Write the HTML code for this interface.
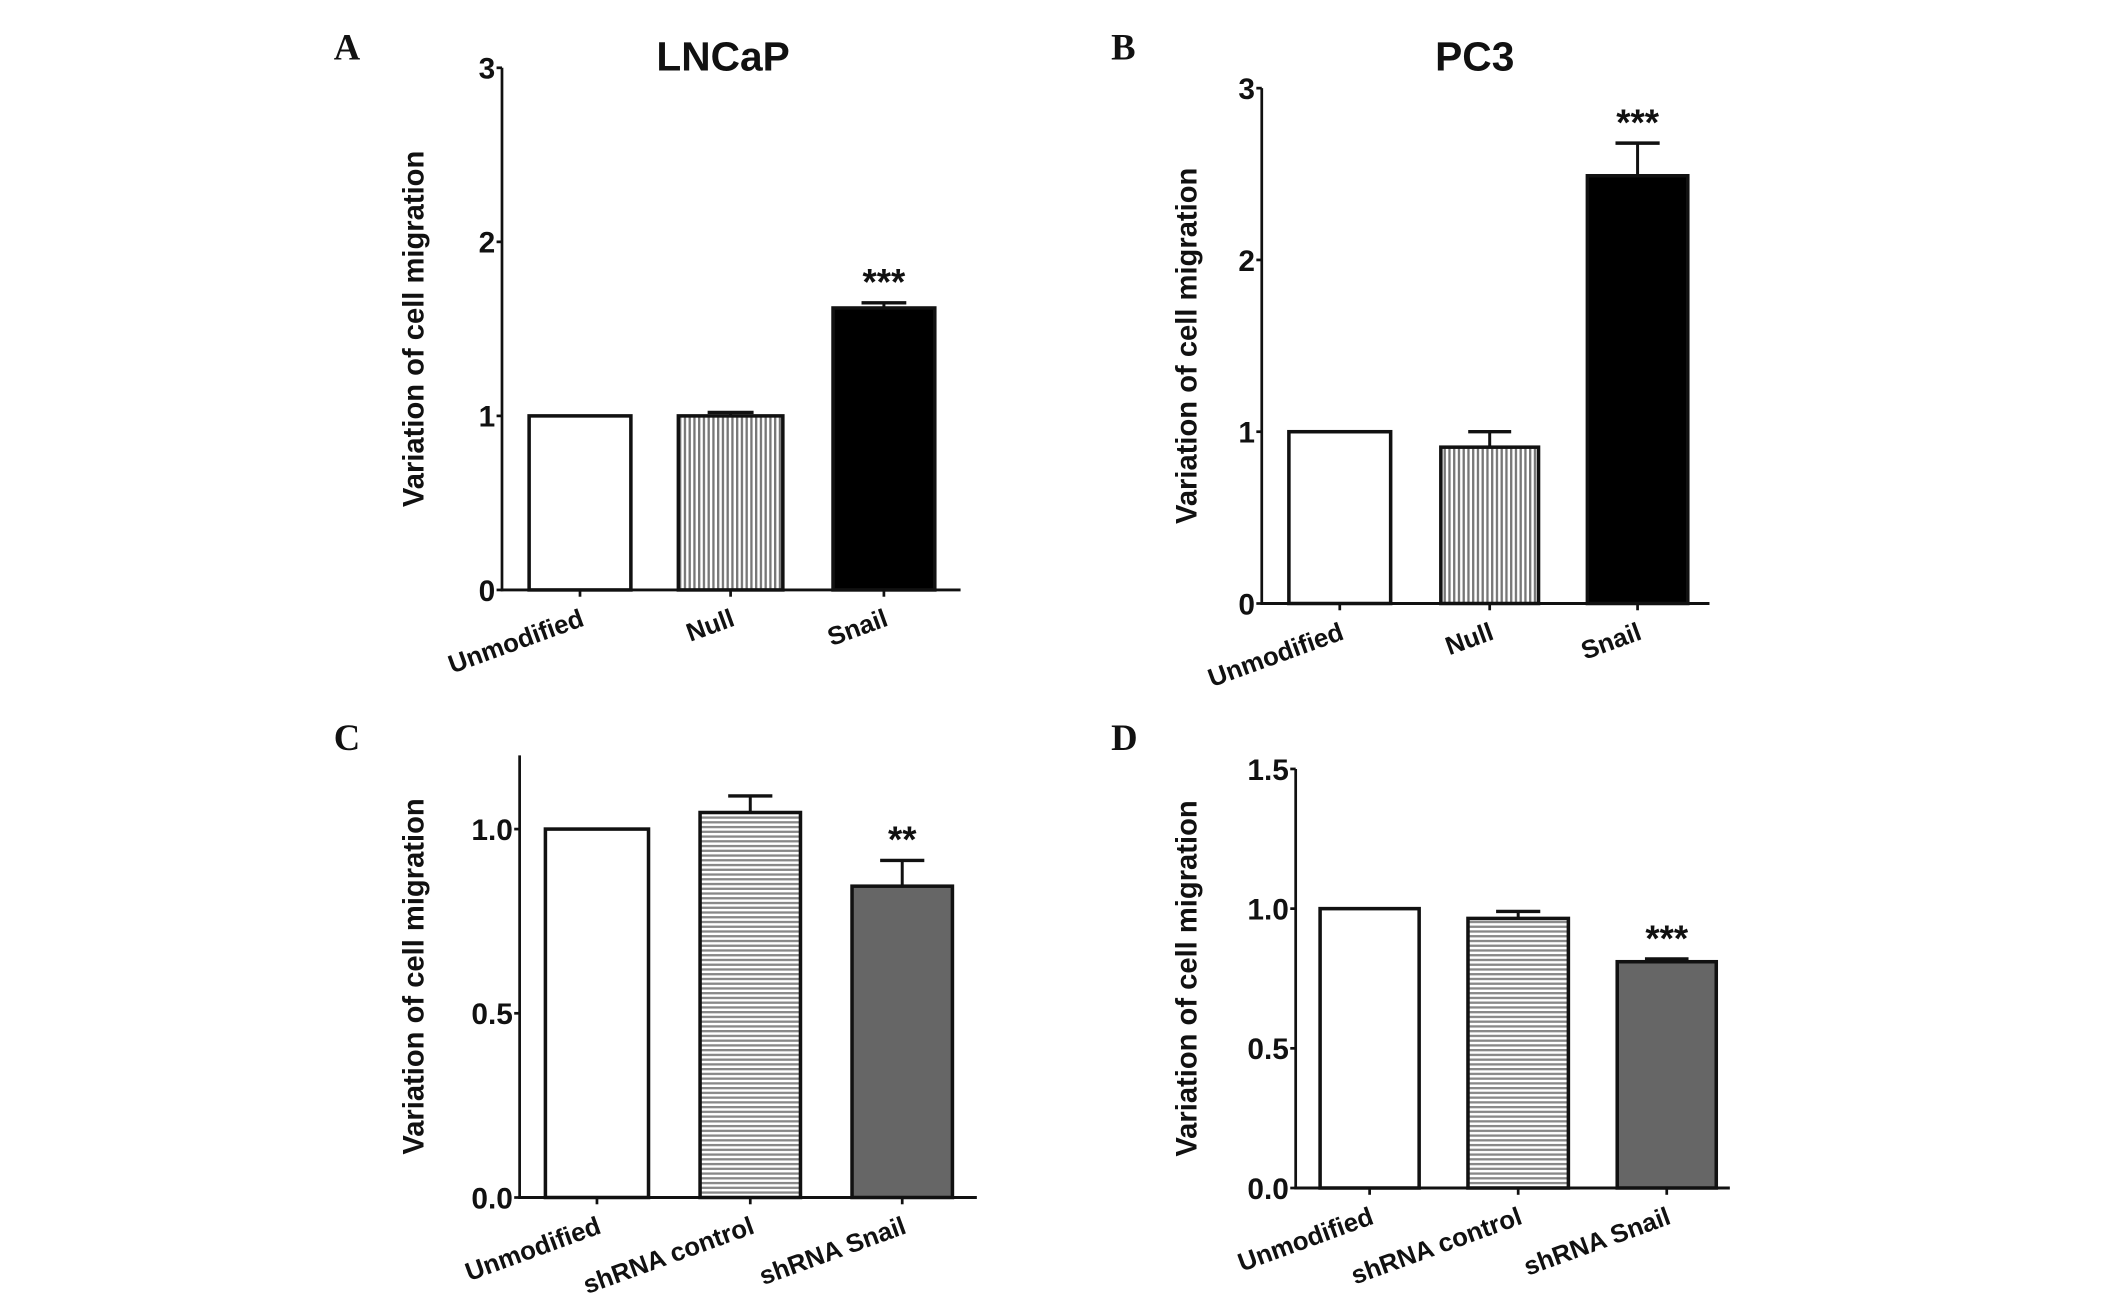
<!DOCTYPE html>
<html><head><meta charset="utf-8">
<style>
html,body{margin:0;padding:0;background:#fff;}
svg{display:block;}
text{font-family:"Liberation Sans",Arial,sans-serif;font-weight:bold;fill:#111;}
</style></head>
<body>
<svg id="fig" width="2126" height="1306" viewBox="0 0 1567 963" preserveAspectRatio="none" xmlns="http://www.w3.org/2000/svg">
<defs>
<pattern id="vstripe" width="3.5" height="10" patternUnits="userSpaceOnUse">
<rect width="3.5" height="10" fill="#fff"/><rect width="1.7" height="10" fill="#777"/>
</pattern>
<pattern id="hstripe" width="10" height="3.5" patternUnits="userSpaceOnUse">
<rect width="10" height="3.5" fill="#fff"/><rect width="10" height="1.7" fill="#888"/>
</pattern>
</defs>
</svg>
<script>
// Panel A data
const catsA = ["Unmodified","Null","Snail"];
const valsA = [1.0, 1.0, 1.62];
const errsA = [0, 0.02, 0.03];
const ticksA = ["0","1","2","3"];
// Panel B data
const catsB = ["Unmodified","Null","Snail"];
const valsB = [1.0, 0.91, 2.49];
const errsB = [0, 0.09, 0.19];
const ticksB = ["0","1","2","3"];
// Panel C data
const catsC = ["Unmodified","shRNA control","shRNA Snail"];
const valsC = [1.0, 1.045, 0.845];
const errsC = [0, 0.045, 0.07];
const ticksC = ["0.0","0.5","1.0"];
// Panel D data
const catsD = ["Unmodified","shRNA control","shRNA Snail"];
const valsD = [1.0, 0.965, 0.81];
const errsD = [0, 0.025, 0.01];
const ticksD = ["0.0","0.5","1.0","1.5"];

const svg = document.getElementById('fig');
const NS = "http://www.w3.org/2000/svg";
function el(tag, attrs, parent){
  const e = document.createElementNS(NS, tag);
  for (const k in attrs) e.setAttribute(k, attrs[k]);
  (parent||svg).appendChild(e);
  return e;
}

const panels = [
  {id:'a', letter:'A', lx:246, ly:44, title:'LNCaP', tx:533, ty:52, ax:370, y0:435, yTop:50, ymax:3, xEnd:708,
   bars:[[390,465],[500,577],[614,689]], fills:['#fff','url(#vstripe)','#000'], stars:'***', cats:catsA, vals:valsA, errs:errsA, ticks:ticksA, ylx:312},
  {id:'b', letter:'B', lx:819, ly:44, title:'PC3', tx:1087, ty:52, ax:930, y0:445, yTop:65, ymax:3, xEnd:1260,
   bars:[[950,1025],[1062,1134],[1170,1244]], fills:['#fff','url(#vstripe)','#000'], stars:'***', cats:catsB, vals:valsB, errs:errsB, ticks:ticksB, ylx:882},
  {id:'c', letter:'C', lx:246, ly:553, ax:383, y0:883, yTop:557, ymax:1.2, xEnd:720,
   bars:[[402,478],[516,590],[628,702]], fills:['#fff','url(#hstripe)','#666'], stars:'**', cats:catsC, vals:valsC, errs:errsC, ticks:ticksC, ylx:312},
  {id:'d', letter:'D', lx:819, ly:553, ax:955, y0:876, yTop:567, ymax:1.5, xEnd:1275,
   bars:[[973,1046],[1082,1156],[1192,1265]], fills:['#fff','url(#hstripe)','#666'], stars:'***', cats:catsD, vals:valsD, errs:errsD, ticks:ticksD, ylx:882}
];

panels.forEach(p=>{
  const g = el('g',{});
  
  
  const yS = v => p.y0 - (p.y0 - p.yTop) * v / p.ymax;
  const L = el('text',{x:p.lx,y:p.ly,'font-size':27,style:'font-family:"Liberation Serif",serif'},g);
  L.textContent = p.letter;
  
  
  if (p.title){
    const t = el('text',{x:p.tx,y:p.ty,'font-size':30,'text-anchor':'middle'},g);
    t.textContent = p.title;
    
    
  }
  const ya = el('line',{x1:p.ax,y1:p.yTop,x2:p.ax,y2:p.y0+1,stroke:'#111','stroke-width':2},g);
  
  
  const xa = el('line',{x1:p.ax-1,y1:p.y0,x2:p.xEnd,y2:p.y0,stroke:'#111','stroke-width':2.2},g);
  
  
  p.ticks.forEach(tl=>{
    const v = parseFloat(tl);
    const y = yS(v);
    el('line',{x1:p.ax-4,y1:y,x2:p.ax,y2:y,stroke:'#111','stroke-width':2},g);
    const tt = el('text',{x:p.ax-5,y:y+8,'font-size':22,'text-anchor':'end'},g);
    tt.textContent = tl;
    
    
  });
  const ymid = (p.y0 + p.yTop)/2;
  const yl = el('text',{x:p.ylx,y:ymid,'font-size':21.5,'text-anchor':'middle',transform:`rotate(-90 ${p.ylx} ${ymid})`},g);
  yl.textContent = 'Variation of cell migration';
  
  
  p.vals.forEach((v,i)=>{
    const [x1,x2] = p.bars[i];
    const cx = (x1+x2)/2;
    const top = yS(v);
    const e = p.errs[i];
    if (e > 0){
      const et = yS(v+e);
      const el1 = el('line',{x1:cx,y1:top,x2:cx,y2:et,stroke:'#111','stroke-width':2.2},g);
      
      
      el('line',{x1:cx-(x2-x1)*0.22,y1:et,x2:cx+(x2-x1)*0.22,y2:et,stroke:'#111','stroke-width':2.5},g);
    }
    const r = el('rect',{x:x1,y:top,width:x2-x1,height:p.y0-top,fill:p.fills[i],stroke:'#111','stroke-width':2.6},g);
    
    
    el('line',{x1:cx,y1:p.y0,x2:cx,y2:p.y0+5,stroke:'#111','stroke-width':2},g);
    const lx = cx + 4, ly = p.y0 + 26;
    const ct = el('text',{x:lx,y:ly,'font-size':19,'text-anchor':'end',transform:`rotate(-20 ${lx} ${ly})`},g);
    ct.textContent = p.cats[i];
    
    
    if (i === 2){
      const sy = yS(v+e) - 6;
      const st = el('text',{x:cx,y:sy,'font-size':27,'text-anchor':'middle'},g);
      st.textContent = p.stars;
      
      
    }
  });
});
</script>
</body></html>
